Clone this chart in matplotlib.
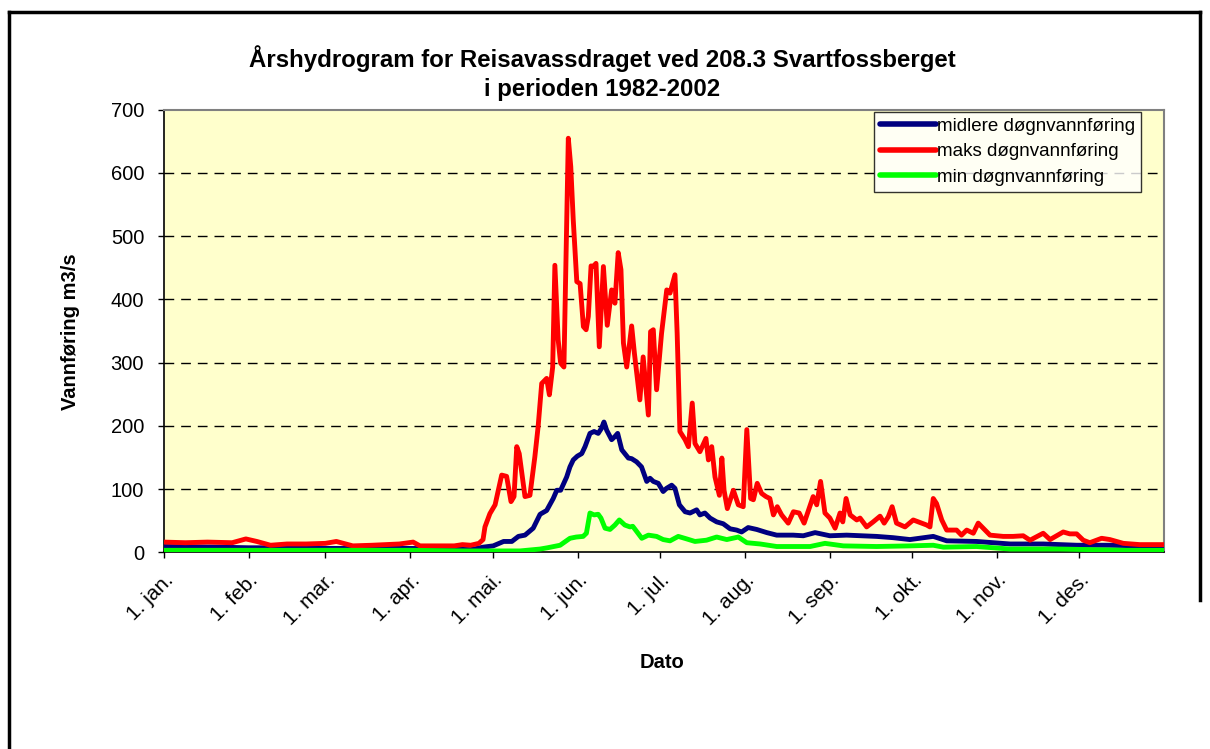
import matplotlib
matplotlib.use("Agg")
import matplotlib.pyplot as plt
from matplotlib.lines import Line2D

plt.rcParams['font.family'] = ['Liberation Sans', 'DejaVu Sans']

# day of year (0 = 1. jan) and discharge m3/s
maks_dag = [0, 8, 16, 25, 30, 34, 39, 45, 52, 59, 63, 69, 76, 86, 91, 93.5, 100, 106, 109, 112,
            115, 116.5, 117.2, 119, 120.9, 123.3, 125.1, 126.7, 127.8, 128.8, 129.7, 131.8, 133.6,
            135.4, 136.6, 137.9, 139.7, 140.7, 141.9, 142.7, 143.9, 144.8, 146, 147.6, 148.5,
            149.4, 150.7, 151.9, 153.1, 154.1, 154.9, 155.9, 156.7, 157.7, 158.9, 160.4, 161.8,
            163.4, 164.6, 165.8, 166.8, 167.7, 168.9, 170.7, 171.7, 173.7, 174.9, 176.8, 177.6,
            178.6, 179.8, 181.6, 183.5, 184.7, 186.5, 187.3, 188.3, 190.2, 191.4, 192.8, 193.8,
            195.6, 197.8, 198.7, 199.9, 201.1, 202.7, 203.6, 204.4, 205.6, 207.8, 209.6, 211.4,
            212.7, 214.1, 215.1, 216.5, 218.1, 219.7, 221.1, 222.4, 223.8, 225.4, 227.8, 229.7,
            231.8, 233.6, 236.9, 238.2, 239.6, 241.2, 243, 244.9, 246.7, 247.7, 248.9, 250.4,
            252.8, 254, 256.4, 258.8, 261.3, 262.8, 264.3, 265.7, 267.3, 270.4, 273.4, 275.2,
            278.3, 279.5, 280.7, 281.9, 283.8, 285.6, 289.2, 291, 292.9, 295.3, 297.1, 298.9,
            301.4, 306.2, 309.8, 313.5, 316, 320.8, 323.3, 328.1, 330.5, 333, 335.4, 337.8,
            342.1, 345.1, 350, 356, 364]
maks_verdi = [16, 15, 16, 15, 21, 17, 11, 13, 13, 14, 17, 10, 11, 13, 16, 10, 10, 10, 12, 11,
              14, 20, 40, 61, 75, 122, 120, 80, 88, 167, 156, 88, 90,
              151, 199, 267, 275, 249, 293, 454, 336, 299, 293, 655, 610,
              526, 428, 425, 357, 352, 373, 453, 452, 457, 325, 452, 359,
              415, 394, 474, 447, 331, 293, 358, 315, 241, 309, 217, 349,
              352, 257, 346, 415, 410, 439, 346, 191, 178, 167, 236, 172,
              159, 180, 146, 167, 119, 90, 149, 98, 69, 98, 75, 72,
              194, 85, 83, 109, 93, 88, 85, 59, 72, 59, 46, 64,
              62, 46, 88, 75, 112, 62, 54, 38, 62, 48, 85, 59,
              51, 54, 40, 48, 57, 46, 56, 72, 46, 40, 51, 48,
              43, 40, 85, 77, 51, 35, 35, 27, 35, 30, 46, 38,
              27, 25, 25, 26, 19, 30, 20, 32, 29, 29, 19, 15,
              22, 20, 14, 12, 12]

midlere_dag = [0, 20, 31, 45, 59, 75, 90, 105, 112, 116.6, 120.2, 124, 127, 129.4, 131.8, 134.8,
               137.3, 139.7, 142.1, 143.4, 144.8, 147, 148.2, 149.4, 150.9, 152.5, 153.7, 155.5,
               157, 158.5, 159.7, 160.6, 161.6, 163.4, 164.6, 165.6, 167.1, 169.5, 170.7, 172.5,
               174.3, 176.2, 177.4, 178.6, 180.4, 182.2, 183.4, 185.3, 186.5, 188.1, 190.2, 192,
               194.4, 195.6, 197.4, 199.3, 201.7, 204.1, 206.6, 209, 210.8, 213.2, 216.3, 220,
               223.6, 229.6, 233.3, 237.6, 243, 249.1, 260, 266, 272.2, 280.7, 285.6, 296.5,
               308.7, 320.8, 333, 345, 357, 364]
midlere_verdi = [9, 8, 7, 7, 6, 6, 6, 5, 4, 8, 10, 17, 17, 25, 27, 38,
                 60, 66, 85, 98, 98, 119, 135, 146, 152, 156, 167, 188,
                 191, 188, 196, 206, 193, 178, 183, 188, 162, 149, 148, 143,
                 135, 112, 117, 112, 109, 96, 101, 106, 101, 75, 64, 62,
                 67, 59, 62, 54, 48, 45, 37, 35, 32, 39, 36, 31,
                 27, 27, 26, 31, 26, 27, 25, 23, 20, 25, 18, 17,
                 13, 13, 11, 11, 10, 9]

min_dag = [0, 30, 60, 90, 110, 130, 137.3, 140, 144.6, 148.2, 150.5, 153, 154.2, 155.5, 157,
           158.5, 159.5, 161, 162.8, 164.6, 166.2, 168.2, 170.1, 171.1, 172.5, 174.4, 176.8,
           179.8, 182.2, 184.7, 187.7, 190.8, 193.8, 198, 201.7, 205.4, 209.6, 212.7, 217.6,
           223.6, 235.8, 241.2, 247.9, 260, 272.2, 280.7, 284.4, 296.5, 308.7, 327, 351, 364]
min_verdi = [3, 3, 3, 3, 2, 2, 5, 7, 11, 22, 24, 25, 30, 62, 59,
             60, 54, 38, 36, 43, 51, 43, 40, 41, 33, 22, 27,
             25, 20, 18, 25, 21, 17, 19, 24, 20, 24, 15, 13,
             9, 9, 14, 10, 9, 10, 11, 8, 9, 5, 5, 3, 3]

maaned_start = [0, 31, 59, 90, 120, 151, 181, 212, 243, 273, 304, 334]
maaned_navn = ['1. jan.', '1. feb.', '1. mar.', '1. apr.', '1. mai.', '1. jun.',
               '1. jul.', '1. aug.', '1. sep.', '1. okt.', '1. nov.', '1. des.']

W, H = 1210, 749
fig = plt.figure(figsize=(W / 100, H / 100), dpi=100)
ax = fig.add_axes([163.6 / W, 1 - 552.2 / H, 1000.8 / W, 442.4 / H])
ax.set_facecolor('#FFFFCC')

ax.plot(midlere_dag, midlere_verdi, color='#000080', lw=3.5, label='midlere døgnvannføring',
        solid_joinstyle='round', zorder=3)
ax.plot(maks_dag, maks_verdi, color='#FF0000', lw=3.5, label='maks døgnvannføring',
        solid_joinstyle='round', zorder=4)
ax.plot(min_dag, min_verdi, color='#00FF00', lw=3.5, label='min døgnvannføring',
        solid_joinstyle='round', zorder=5)

ax.set_xlim(0, 365)
ax.set_ylim(0, 700)
ax.set_yticks(range(0, 701, 100))
ax.set_xticks(maaned_start)
ax.set_xticklabels(maaned_navn, rotation=45, ha='right', rotation_mode='anchor')
ax.tick_params(axis='both', direction='out', length=4, width=1, labelsize=14.5, colors='black')
ax.tick_params(axis='x', pad=9, labelsize=15)
ax.tick_params(axis='y', pad=10)

for y in range(100, 700, 100):
    ax.axhline(y, color='black', lw=1.0, dashes=(7, 5), zorder=1)

for side in ['top', 'right']:
    ax.spines[side].set_color('#808080')
    ax.spines[side].set_linewidth(1.5)
for side in ['left', 'bottom']:
    ax.spines[side].set_color('black')
    ax.spines[side].set_linewidth(1.2)

leg = ax.legend(loc='upper right', bbox_to_anchor=(1141 / W, 1 - 112 / H),
                bbox_transform=fig.transFigure, fontsize=13.5, frameon=True, fancybox=False,
                edgecolor='black', handlelength=3.0, handletextpad=0.05, labelspacing=0.45,
                borderpad=0.3, borderaxespad=0)
leg.get_frame().set_linewidth(1.0)
for h in leg.get_lines():
    h.set_linewidth(4)
    h.set_solid_capstyle('round')

fig.text(602 / W, 1 - 73 / H,
         'Årshydrogram for Reisavassdraget ved 208.3 Svartfossberget\ni perioden 1982-2002',
         ha='center', va='center', fontsize=17.3, fontweight='bold', linespacing=1.35)
fig.text(71 / W, 1 - 332 / H, 'Vannføring m3/s', rotation=90, ha='center', va='center',
         fontsize=14.5, fontweight='bold')
fig.text(662 / W, 1 - 663 / H, 'Dato', ha='center', va='center', fontsize=14.5,
         fontweight='bold')

# chart frame
frame = dict(color='black', lw=2.5, transform=fig.transFigure)
fig.add_artist(Line2D([9 / W, 9 / W], [0, 1 - 12 / H], **frame))
fig.add_artist(Line2D([9 / W, 1200 / W], [1 - 12 / H, 1 - 12 / H], **frame))
fig.add_artist(Line2D([1200 / W, 1200 / W], [1 - 600 / H, 1 - 12 / H], **frame))

fig.savefig('out.png', dpi=100)
